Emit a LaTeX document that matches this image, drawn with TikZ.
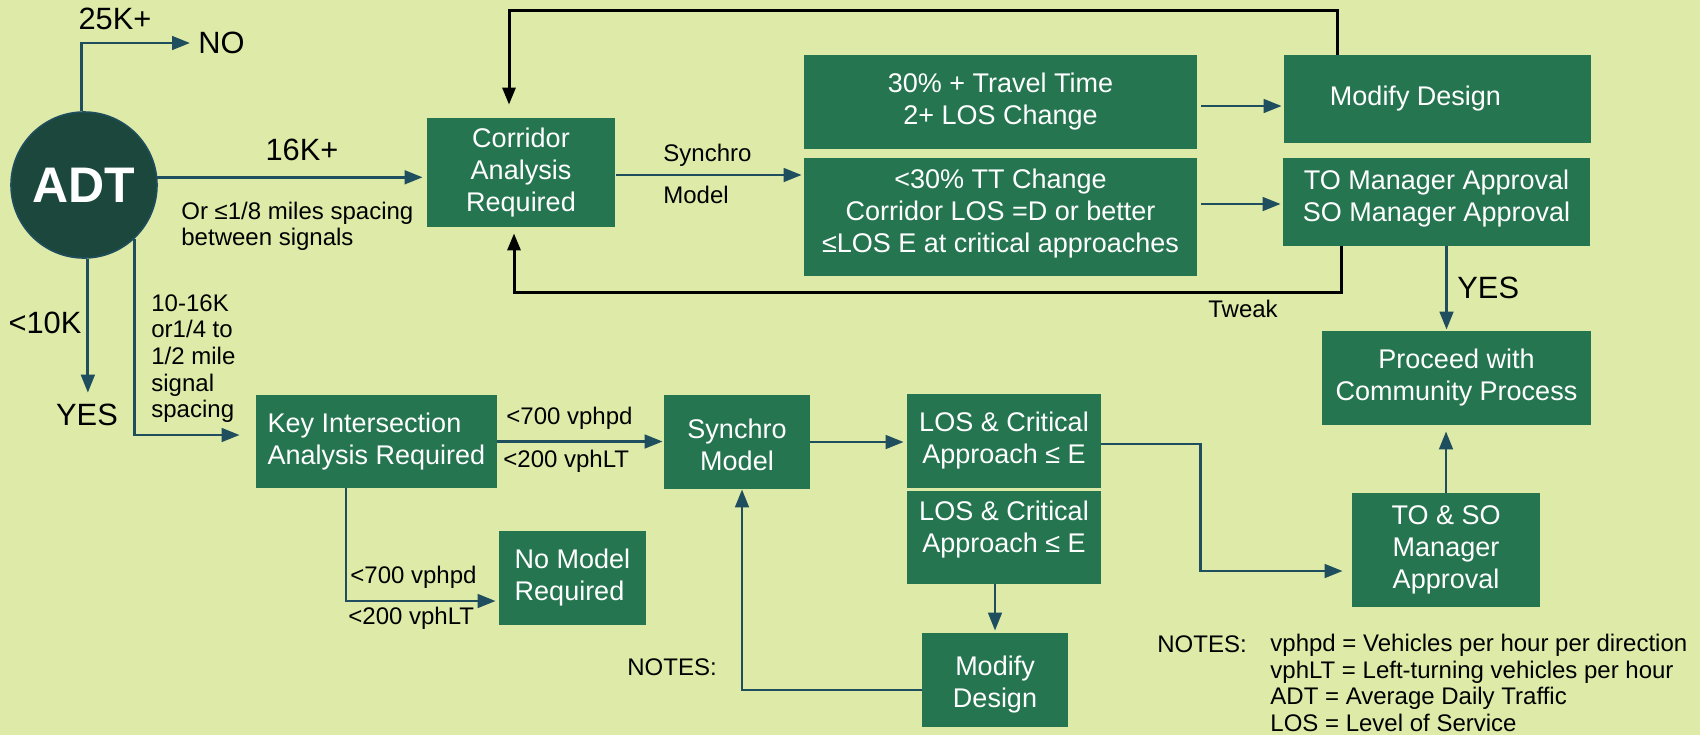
\documentclass[tikz,border=0pt]{standalone}
\usepackage{fontspec}
\setmainfont{Liberation Sans}
\usetikzlibrary{arrows.meta,calc}
\definecolor{bgc}{RGB}{221,234,168}
\definecolor{boxc}{RGB}{37,118,80}
\definecolor{circc}{RGB}{27,71,60}
\definecolor{arrc}{RGB}{31,78,94}
\tikzset{
  box/.style={rectangle, fill=boxc, text=white, align=center, inner sep=0pt, font=\fontsize{13.5}{16}\selectfont},
  boxtext/.style={inner sep=0pt, text=white, align=center, font=\fontsize{13.5}{16}\selectfont},
  lbl/.style={inner sep=0pt, text=black, align=left, font=\fontsize{12}{13.35}\selectfont},
  big/.style={inner sep=0pt, text=black, font=\fontsize{15.4}{18}\selectfont},
  arr/.style={draw=arrc, line width=1.4pt, -{Triangle[length=9pt,width=6.8pt]}},
  blk/.style={draw=black, line width=1.5pt, -{Triangle[length=8.5pt,width=6.5pt]}},
}
\begin{document}
\begin{tikzpicture}[x=0.5pt,y=-0.5pt]
\fill[bgc] (0,0) rectangle (1700,735);
\useasboundingbox (0,0) rectangle (1700,735);

% ---- nodes ----
\node[circle, fill=circc, draw=arrc, line width=0.8pt, minimum size=73pt, inner sep=0pt, text=white, font=\bfseries\fontsize{25}{30}\selectfont] (adt) at (84,185) {ADT};

\node[box, minimum width=94pt, minimum height=54.5pt] (corr) at (521,172.5) {Corridor\\Analysis\\Required};
\node[box, minimum width=196.5pt, minimum height=47pt] (tt30) at (1000.5,102) {30\% + Travel Time\\2+ LOS Change};
\node[box, minimum width=196.5pt, minimum height=59pt] (tt30l) at (1000.5,217) {};
\node[boxtext] (tt30lt) at ($(tt30l.center)+(0,-3)$) {<30\% TT Change\\Corridor LOS =D or better\\≤LOS E at critical approaches};
\node[box, minimum width=153.5pt, minimum height=44pt] (modtop) at (1437.5,99) {Modify Design\hspace*{22pt}};
\node[box, minimum width=153.5pt, minimum height=44pt] (tomgr) at (1436.5,202) {};
\node[boxtext] (tomgrt) at ($(tomgr.center)+(0,-3)$) {TO Manager Approval\\SO Manager Approval};
\node[box, minimum width=134.5pt, minimum height=47pt] (proceed) at (1456.5,378) {Proceed with\\Community Process};
\node[box, align=left, minimum width=120.5pt, minimum height=46.5pt] (key) at (376.5,441.5) {Key Intersection\\Analysis Required};
\node[box, align=left, minimum width=73.5pt, minimum height=47pt] (nomodel) at (572.5,578) {No Model\\Required};
\node[box, minimum width=73pt, minimum height=47pt] (synchro) at (737,442) {};
\node[boxtext] (synchrot) at ($(synchro.center)+(0,3)$) {Synchro\\Model};
\node[box, minimum width=97pt, minimum height=47pt] (los1) at (1004,441) {LOS \& Critical\\Approach ≤ E};
\node[box, minimum width=97pt, minimum height=46.5pt] (los2) at (1004,537.5) {};
\node[boxtext] (los2t) at ($(los2.center)+(0,-8)$) {LOS \& Critical\\Approach ≤ E};
\node[box, minimum width=73pt, minimum height=47pt] (modbot) at (995,680) {};
\node[boxtext] (modbott) at ($(modbot.center)+(0,5)$) {Modify\\Design};
\node[box, minimum width=94pt, minimum height=57pt] (toso) at (1446,550) {TO \& SO\\Manager\\Approval};

% ---- labels ----
\node[big] (k25) at (115,19) {25K+};
\node[big, anchor=west] (no) at (198,43) {NO};
\node[big] (k16) at (302,150) {16K+};
\node[lbl, anchor=west, font=\fontsize{12}{13}\selectfont] (or8) at (181,226) {Or ≤1/8 miles spacing\\between signals};
\node[big] (k10) at (45,323) {<10K};
\node[big] (yesl) at (87,415) {YES};
\node[lbl, anchor=west] (k1016) at (151,358.5) {10-16K\\or1/4 to\\1/2 mile\\signal\\spacing};
\node[lbl, anchor=west] (syn1) at (663,155) {Synchro};
\node[lbl, anchor=west] (syn2) at (663,195) {Model};
\node[lbl] (tweak) at (1243,309) {Tweak};
\node[big, anchor=west] (yesr) at (1457,288) {YES};
\node[lbl, anchor=west] (v1) at (506,418) {<700 vphpd};
\node[lbl, anchor=west] (v2) at (503,461) {<200 vphLT};
\node[lbl, anchor=west] (v3) at (350,577) {<700 vphpd};
\node[lbl, anchor=west] (v4) at (348,618) {<200 vphLT};
\node[lbl, anchor=west] (notesm) at (627,667) {NOTES:};
\node[lbl, anchor=west] (notesr) at (1157,644) {NOTES:};
\node[lbl, anchor=west] (notes) at (1270,683) {vphpd = Vehicles per hour per direction\\vphLT = Left-turning vehicles per hour\\ADT = Average Daily Traffic\\LOS = Level of Service};

% ---- connectors ----
\draw[arr] (adt.92) |- ([xshift=-4pt]no.west);
\draw[arr, shorten >=2pt] (adt.6) -- (adt.6 -| corr.west);
\draw[arr] (adt.-47) |- ($(key.west)+(-16,-6.5)$);
\draw[arr, shorten >=5.5pt] (adt.-87) -- (adt.-87 |- yesl.north);

\coordinate (a1) at ($(corr.east)+(1,2.5)$);
\draw[arr, shorten >=1pt] (a1) -- (a1 -| tt30l.west);
\coordinate (a2) at ($(tt30.east)+(4,4)$);
\draw[arr, shorten >=1pt] (a2) -- (a2 -| modtop.west);
\coordinate (a3) at ($(tt30l.east)+(4,-13)$);
\draw[arr, shorten >=1pt] (a3) -- (a3 -| tomgr.west);

\coordinate (a4) at ($(modtop.north west)+(54,0)$);
\coordinate (a5) at ($(corr.north)+(-12,0)$);
\draw[blk, shorten >=6.5pt] (a4) -- ++(0,-44) -| (a5);
\coordinate (a6) at ($(tomgr.south west)+(59,0)$);
\coordinate (a7) at ($(corr.south)+(-7,0)$);
\draw[blk, shorten >=3pt] (a6) -- ++(0,46) -| (a7);

\coordinate (a8) at ($(tomgr.south)+(10,0)$);
\draw[arr, shorten >=0.5pt] (a8) -- (a8 |- proceed.north);

\draw[arr, shorten >=0.5pt] (key.east) -- (key.east -| synchro.west);
\coordinate (a9) at ($(key.south)+(-30.5,0)$);
\draw[arr, shorten >=1.5pt] (a9) |- ($(nomodel.west)+(0,23)$);

\draw[arr, shorten >=1.5pt] (synchro.east) -- (synchro.east -| los1.west);
\draw[arr, shorten >=1pt] (modbot.north |- los2.south) -- (modbot.north);
\coordinate (b1) at ($(modbot.west)+(0,10)$);
\coordinate (b2) at ($(synchro.south)+(5,0)$);
\draw[arr] (b1) -| (b2);

\coordinate (b3) at ($(los1.east)+(0,3)$);
\coordinate (b4) at ($(toso.west)+(0,21)$);
\draw[arr, shorten >=4.5pt] (b3) -- ++(99,0) |- (b4);
\draw[arr, shorten >=3pt] (toso.north) -- (toso.north |- proceed.south);
\end{tikzpicture}
\end{document}
